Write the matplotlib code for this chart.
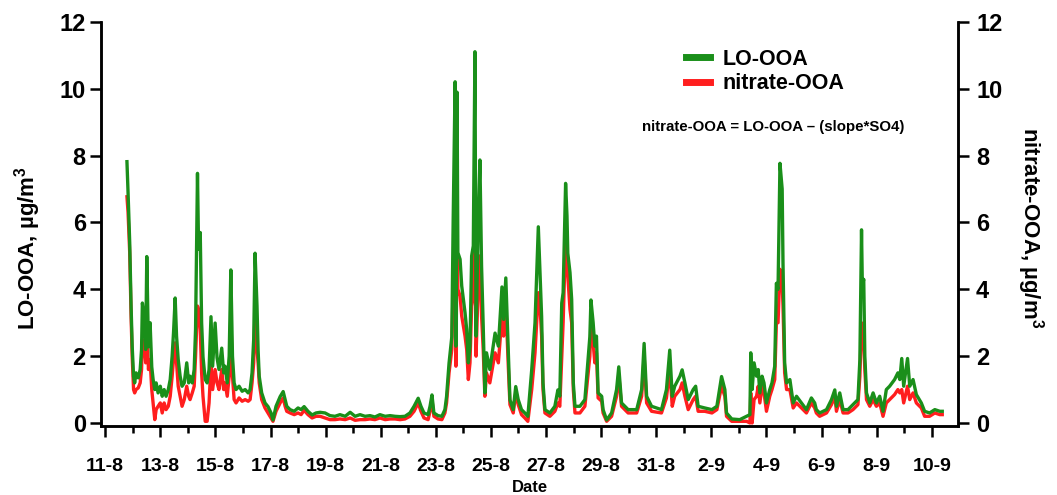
import matplotlib
matplotlib.use("Agg")
from matplotlib import pyplot as plt
from matplotlib.ticker import MultipleLocator
import numpy as np

plt.rcParams['font.family'] = ['Liberation Sans', 'DejaVu Sans']
plt.rcParams['font.weight'] = 'bold'
plt.rcParams['axes.labelweight'] = 'bold'
plt.rcParams['mathtext.fontset'] = 'custom'
plt.rcParams['mathtext.rm'] = 'Liberation Sans:bold'
plt.rcParams['mathtext.bf'] = 'Liberation Sans:bold'
plt.rcParams['mathtext.default'] = 'bf'

# time in days of August (1 Sep = day 32)
day = [11.79, 11.83, 11.89, 11.94, 11.98, 12.03, 12.07, 12.12, 12.20, 12.27,
       12.32, 12.35, 12.41, 12.47, 12.51, 12.57, 12.63, 12.69, 12.74, 12.80,
       12.85, 12.92, 13.00, 13.07, 13.14, 13.21, 13.29, 13.36, 13.43, 13.48,
       13.54, 13.59, 13.65, 13.72, 13.79, 13.87, 13.96, 14.03, 14.08, 14.16,
       14.23, 14.28, 14.35, 14.39, 14.45, 14.50, 14.55, 14.63, 14.70, 14.77,
       14.84, 14.90, 14.99, 15.06, 15.13, 15.23, 15.30, 15.35, 15.43, 15.50,
       15.56, 15.62, 15.68, 15.75, 15.86, 15.97, 16.08, 16.19, 16.26, 16.33,
       16.39, 16.44, 16.51, 16.55, 16.59, 16.68, 16.80, 16.91, 17.02, 17.09,
       17.20, 17.35, 17.46, 17.53, 17.59, 17.71, 17.86, 18.00, 18.11, 18.22,
       18.36, 18.51, 18.65, 18.80, 18.98, 19.16, 19.34, 19.52, 19.71, 19.89,
       20.07, 20.25, 20.43, 20.61, 20.79, 20.97, 21.16, 21.34, 21.52, 21.70,
       21.88, 22.06, 22.21, 22.36, 22.46, 22.57, 22.72, 22.79, 22.86, 22.93,
       23.08, 23.22, 23.33, 23.39, 23.48, 23.58, 23.63, 23.70, 23.73, 23.77,
       23.80, 23.88, 23.94, 24.06, 24.12, 24.18, 24.24, 24.30, 24.36, 24.42,
       24.46, 24.54, 24.60, 24.66, 24.72, 24.78, 24.84, 24.96, 25.15, 25.27,
       25.40, 25.46, 25.54, 25.63, 25.69, 25.81, 25.90, 25.99, 26.11, 26.23,
       26.34, 26.48, 26.60, 26.72, 26.78, 26.84, 26.89, 26.96, 27.14, 27.32,
       27.43, 27.50, 27.57, 27.62, 27.71, 27.76, 27.79, 27.87, 27.93, 27.99,
       28.05, 28.23, 28.41, 28.59, 28.63, 28.71, 28.77, 28.83, 28.89, 29.02,
       29.07, 29.20, 29.38, 29.56, 29.64, 29.74, 29.98, 30.29, 30.47, 30.56,
       30.65, 30.83, 31.19, 31.37, 31.49, 31.58, 31.67, 31.86, 31.94, 32.04,
       32.16, 32.34, 32.43, 32.52, 32.76, 33.02, 33.20, 33.37, 33.49, 33.55,
       33.74, 34.03, 34.28, 34.40, 34.43, 34.48, 34.55, 34.64, 34.70, 34.76,
       34.84, 34.91, 35.00, 35.12, 35.20, 35.30, 35.36, 35.42, 35.49, 35.57,
       35.60, 35.66, 35.73, 35.85, 35.97, 36.09, 36.27, 36.45, 36.63, 36.75,
       36.81, 36.93, 37.18, 37.36, 37.48, 37.54, 37.66, 37.78, 37.96, 38.14,
       38.32, 38.39, 38.45, 38.48, 38.53, 38.57, 38.63, 38.75, 38.87, 38.99,
       39.11, 39.23, 39.35, 39.47, 39.65, 39.77, 39.84, 39.91, 39.98, 40.12,
       40.20, 40.32, 40.44, 40.62, 40.74, 40.92, 41.11, 41.29, 41.38]

lo_ooa = [7.82, 6.90, 5.40, 3.50, 2.30, 1.39, 1.20, 1.50, 1.35, 1.60,
          2.20, 3.59, 3.20, 2.20, 4.98, 2.28, 3.00, 1.68, 1.30, 1.00,
          1.20, 0.90, 1.10, 0.80, 1.00, 0.80, 1.00, 1.30, 2.00, 2.70,
          3.74, 2.60, 1.90, 1.40, 1.10, 1.20, 1.80, 1.20, 1.40, 1.20,
          1.60, 2.80, 7.47, 5.20, 5.70, 3.00, 1.98, 1.30, 1.20, 1.60,
          3.18, 1.70, 2.99, 1.95, 1.60, 2.24, 1.50, 1.70, 1.20, 2.00,
          4.58, 2.00, 1.20, 1.00, 1.10, 0.95, 1.00, 0.90, 1.00, 1.50,
          2.50, 5.08, 3.50, 2.18, 1.40, 0.90, 0.60, 0.49, 0.30, 0.09,
          0.50, 0.79, 0.94, 0.70, 0.50, 0.40, 0.35, 0.45, 0.40, 0.49,
          0.35, 0.24, 0.30, 0.32, 0.30, 0.22, 0.20, 0.25, 0.20, 0.32,
          0.20, 0.25, 0.20, 0.22, 0.18, 0.25, 0.20, 0.22, 0.20, 0.19,
          0.20, 0.30, 0.50, 0.74, 0.50, 0.30, 0.25, 0.50, 0.84, 0.30,
          0.22, 0.20, 0.40, 0.79, 1.79, 2.58, 6.07, 10.21, 2.30, 9.90,
          5.10, 4.90, 4.10, 3.30, 2.80, 1.80, 2.30, 5.00, 5.30, 11.11,
          2.60, 6.10, 7.87, 4.70, 2.90, 0.90, 2.10, 1.60, 2.69, 2.30,
          4.07, 3.10, 4.34, 2.10, 0.69, 0.40, 1.09, 0.70, 0.40, 0.30,
          0.20, 1.59, 3.00, 5.87, 4.50, 3.18, 1.20, 0.40, 0.30, 0.50,
          0.99, 0.80, 3.59, 3.90, 7.17, 6.20, 5.08, 4.50, 3.70, 1.20,
          0.50, 0.50, 0.70, 2.58, 3.68, 3.00, 2.30, 2.60, 0.90, 0.80,
          0.40, 0.09, 0.30, 1.00, 1.68, 0.60, 0.40, 0.40, 1.00, 2.38,
          0.80, 0.50, 0.40, 1.00, 2.18, 0.80, 1.10, 1.40, 1.59, 1.20,
          0.70, 1.00, 1.10, 0.50, 0.45, 0.40, 0.50, 1.39, 1.00, 0.30,
          0.12, 0.10, 0.20, 0.25, 2.10, 1.00, 1.80, 1.40, 1.60, 0.90,
          1.40, 1.20, 0.60, 1.00, 1.20, 1.70, 4.18, 4.00, 7.77, 7.00,
          4.80, 1.80, 1.20, 1.30, 0.60, 0.80, 0.60, 0.40, 0.75, 0.60,
          0.40, 0.30, 0.40, 0.70, 0.99, 0.50, 0.90, 0.40, 0.40, 0.55,
          0.70, 1.89, 5.78, 4.10, 4.30, 2.00, 0.90, 0.60, 0.90, 0.60,
          0.80, 0.35, 1.00, 1.10, 1.30, 1.50, 1.30, 1.93, 1.10, 1.93,
          1.10, 1.30, 0.85, 0.60, 0.35, 0.30, 0.40, 0.35, 0.35]

nitrate_ooa = [6.77, 6.30, 5.10, 3.20, 2.00, 1.00, 0.90, 1.00, 1.05, 1.20,
               1.60, 2.50, 2.40, 1.80, 2.90, 1.60, 1.90, 1.00, 0.60, 0.10,
               0.40, 0.50, 0.60, 0.30, 0.60, 0.40, 0.50, 0.80, 1.40, 1.90,
               2.40, 1.80, 1.10, 0.80, 0.50, 0.70, 1.10, 0.80, 0.70, 0.90,
               1.10, 2.00, 3.50, 3.40, 2.80, 1.50, 0.80, 0.05, 0.05, 0.60,
               1.80, 1.00, 1.60, 1.20, 1.00, 1.60, 1.00, 1.20, 0.80, 1.40,
               3.20, 1.40, 0.70, 0.60, 0.75, 0.65, 0.70, 0.65, 0.70, 1.20,
               1.80, 3.40, 2.20, 1.80, 1.20, 0.70, 0.45, 0.30, 0.15, 0.05,
               0.35, 0.60, 0.75, 0.50, 0.35, 0.30, 0.25, 0.30, 0.25, 0.38,
               0.25, 0.15, 0.20, 0.20, 0.15, 0.10, 0.10, 0.12, 0.10, 0.15,
               0.08, 0.10, 0.10, 0.12, 0.10, 0.15, 0.10, 0.12, 0.12, 0.10,
               0.12, 0.20, 0.35, 0.60, 0.35, 0.15, 0.10, 0.35, 0.70, 0.20,
               0.12, 0.10, 0.30, 0.60, 1.50, 2.20, 4.20, 6.30, 1.70, 5.50,
               4.00, 3.80, 3.20, 2.60, 2.20, 1.30, 1.80, 3.50, 3.80, 5.60,
               2.00, 4.20, 5.00, 3.20, 2.20, 0.80, 1.50, 1.20, 2.10, 1.80,
               3.20, 2.60, 3.60, 1.70, 0.55, 0.30, 0.90, 0.55, 0.25, 0.15,
               0.05, 1.00, 2.10, 3.90, 3.50, 2.60, 1.00, 0.30, 0.20, 0.35,
               0.60, 0.50, 2.00, 3.00, 5.50, 5.00, 4.40, 3.40, 3.00, 1.00,
               0.30, 0.30, 0.50, 2.00, 2.90, 2.40, 1.80, 2.10, 0.75, 0.65,
               0.30, 0.05, 0.20, 0.80, 1.45, 0.50, 0.30, 0.30, 0.80, 2.00,
               0.60, 0.35, 0.30, 0.75, 1.60, 0.50, 0.80, 1.00, 1.20, 0.80,
               0.40, 0.70, 0.80, 0.35, 0.35, 0.30, 0.40, 1.10, 0.80, 0.20,
               0.05, 0.05, 0.05, 0.00, 0.90, 0.00, 0.70, 0.80, 1.10, 0.60,
               1.10, 0.90, 0.35, 0.80, 1.00, 1.30, 3.00, 3.00, 4.60, 4.20,
               3.50, 1.50, 1.00, 1.00, 0.45, 0.60, 0.45, 0.30, 0.60, 0.45,
               0.30, 0.20, 0.30, 0.55, 0.80, 0.35, 0.70, 0.30, 0.30, 0.40,
               0.55, 1.40, 3.00, 2.80, 2.40, 1.60, 0.70, 0.50, 0.70, 0.50,
               0.60, 0.20, 0.60, 0.70, 0.85, 1.00, 0.90, 1.00, 0.60, 1.10,
               0.70, 0.90, 0.60, 0.45, 0.20, 0.20, 0.30, 0.25, 0.25]

tick_days = [11, 13, 15, 17, 19, 21, 23, 25, 27, 29, 31, 33, 35, 37, 39, 41]
tick_labels = ['11-8', '13-8', '15-8', '17-8', '19-8', '21-8', '23-8', '25-8',
               '27-8', '29-8', '31-8', '2-9', '4-9', '6-9', '8-9', '10-9']

fig = plt.figure(figsize=(10.57, 4.95), dpi=100)
ax = fig.add_axes([0.0956, 0.1394, 0.8107, 0.8162])
ax2 = ax.twinx()

ax.plot(day, nitrate_ooa, color='#ff1e1e', lw=2.4, label='nitrate-OOA', zorder=2)
ax.plot(day, lo_ooa, color='#1a8f1a', lw=2.4, label='LO-OOA', zorder=3)

ax.set_xlim(10.85, 41.95)
ax.set_ylim(-0.09, 12)
ax2.set_ylim(-0.09, 12)
ax.set_xticks(tick_days)
ax.set_xticklabels(tick_labels)
ax.xaxis.set_minor_locator(MultipleLocator(1))
ax.set_yticks(range(0, 13, 2))
ax2.set_yticks(range(0, 13, 2))

for a in (ax, ax2):
    a.spines['top'].set_visible(False)
    for s in ('left', 'right', 'bottom'):
        a.spines[s].set_linewidth(1.8)
ax.tick_params(axis='x', which='major', length=8, width=1.8, labelsize=14, pad=15)
ax.tick_params(axis='x', which='minor', length=5, width=1.8)
ax.tick_params(axis='y', length=8, width=1.8, labelsize=17, pad=3)
ax2.tick_params(axis='y', length=8, width=1.8, labelsize=17, pad=5)

ax.set_xlabel('Date', fontsize=12, labelpad=4)
ax.set_ylabel('LO-OOA, µg/m$^3$', fontsize=16)
ax.yaxis.set_label_coords(-0.068, 0.44)
ax2.set_ylabel('nitrate-OOA, µg/m$^3$', fontsize=16, rotation=270, va='center')
ax2.yaxis.set_label_coords(1.085, 0.49)

handles, labels = ax.get_legend_handles_labels()
leg = ax.legend(handles[::-1], labels[::-1], loc='upper left',
                bbox_to_anchor=(0.67, 0.96), frameon=False, fontsize=15.5,
                handlelength=1.1, handletextpad=0.6, labelspacing=0.15,
                borderpad=0)
for line in leg.get_lines():
    line.set_linewidth(5)

ax.text(0.784, 0.74, 'nitrate-OOA = LO-OOA – (slope*SO4)', transform=ax.transAxes,
        ha='center', va='center', fontsize=10.8, fontweight='bold')

fig.savefig('out.png', dpi=100)
